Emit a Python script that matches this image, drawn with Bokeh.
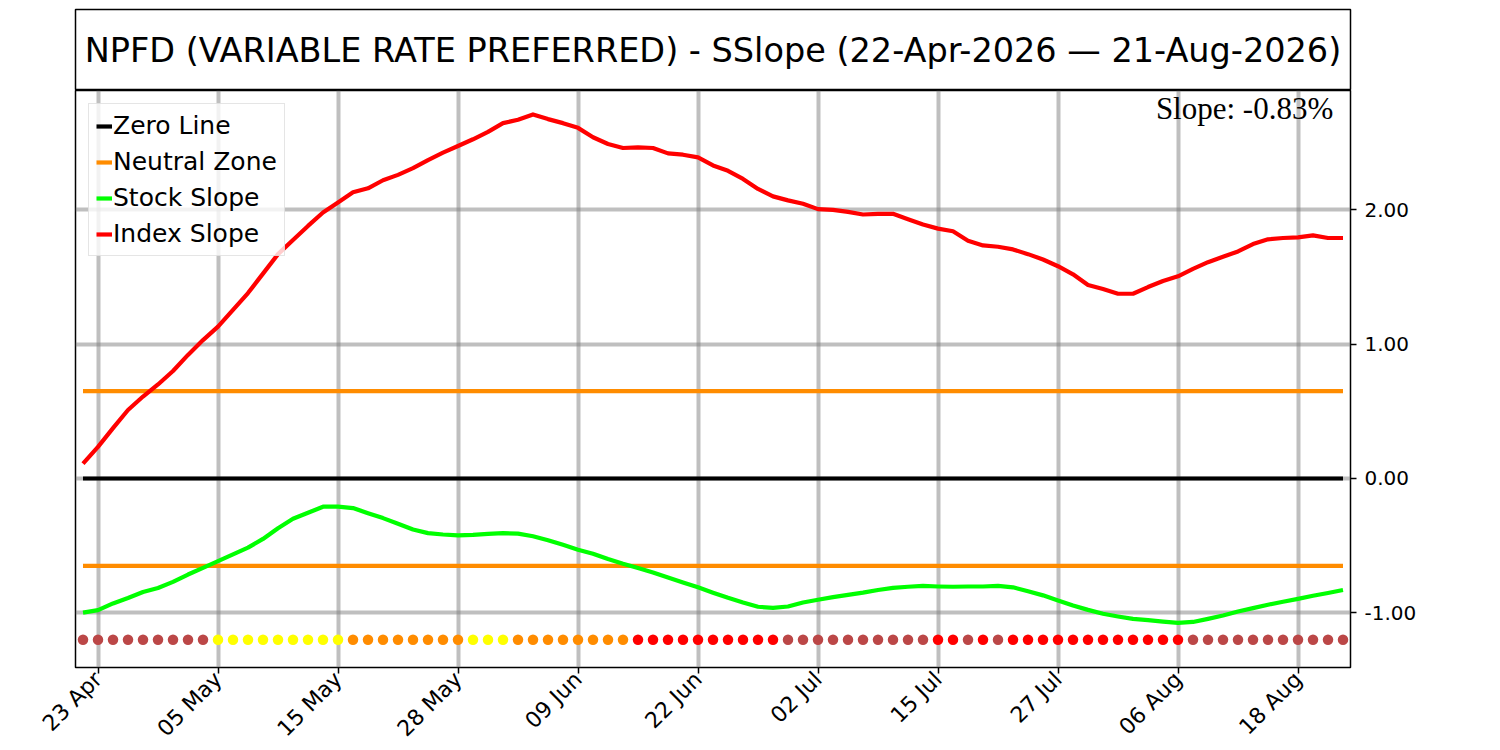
import math
import pandas as pd
from bokeh.plotting import figure
from bokeh.models import (Range1d, FixedTicker, NumeralTickFormatter, Legend,
                          LegendItem, Label, ColumnDataSource)
from bokeh.layouts import column
from bokeh.embed import file_html
from bokeh.resources import INLINE

# ---------------- data ----------------
TITLE = "NPFD (VARIABLE RATE PREFERRED) - SSlope (22-Apr-2026 \u2014 21-Aug-2026)"
SLOPE_TEXT = "Slope: -0.83%"

market_holidays = ["2026-05-25", "2026-06-19", "2026-07-03"]
days = [d for d in pd.bdate_range("2026-04-22", "2026-08-21")
        if d.strftime("%Y-%m-%d") not in market_holidays]
idx = list(range(len(days)))

tick_idx = [1, 9, 17, 25, 33, 41, 49, 57, 65, 73, 81]
tick_labels = [days[i].strftime("%d %b") for i in tick_idx]
y_ticks = [-1.0, 0.0, 1.0, 2.0]

index_slope = [
    0.11, 0.235, 0.375, 0.51, 0.61, 0.70, 0.80, 0.92, 1.03, 1.13,
    1.255, 1.38, 1.525, 1.67, 1.775, 1.88, 1.98, 2.055, 2.13, 2.16,
    2.22, 2.26, 2.31, 2.37, 2.425, 2.475, 2.525, 2.58, 2.645, 2.67,
    2.71, 2.675, 2.645, 2.61, 2.54, 2.49, 2.46, 2.465, 2.46, 2.42,
    2.41, 2.39, 2.33, 2.29, 2.23, 2.155, 2.10, 2.07, 2.045, 2.005,
    2.0, 1.985, 1.965, 1.97, 1.97, 1.93, 1.89, 1.86, 1.84, 1.77,
    1.735, 1.725, 1.705, 1.67, 1.63, 1.58, 1.52, 1.44, 1.41, 1.375,
    1.375, 1.425, 1.47, 1.505, 1.56, 1.61, 1.65, 1.69, 1.745, 1.78,
    1.79, 1.795, 1.81, 1.79, 1.79,
]

stock_slope = [
    -0.998, -0.98, -0.93, -0.89, -0.845, -0.815, -0.77, -0.715, -0.665, -0.615,
    -0.565, -0.515, -0.45, -0.37, -0.30, -0.255, -0.21, -0.21, -0.22, -0.258,
    -0.295, -0.337, -0.38, -0.407, -0.417, -0.424, -0.42, -0.412, -0.407, -0.41,
    -0.43, -0.46, -0.494, -0.53, -0.56, -0.60, -0.635, -0.667, -0.70, -0.737,
    -0.774, -0.81, -0.85, -0.888, -0.923, -0.955, -0.963, -0.953, -0.923, -0.903,
    -0.883, -0.866, -0.85, -0.83, -0.814, -0.806, -0.80, -0.804, -0.806, -0.804,
    -0.804, -0.80, -0.81, -0.84, -0.87, -0.908, -0.945, -0.978, -1.007, -1.027,
    -1.045, -1.055, -1.066, -1.075, -1.068, -1.045, -1.02, -0.99, -0.965, -0.94,
    -0.918, -0.896, -0.873, -0.852, -0.83,
]

# daily signal state: B = weak (brown), Y = yellow, O = orange, R = red
signal_state = list(
    "BBBBBBBBB" + "YYYYYYYYY" + "OOOOOOOO" + "YYY" + "OOOOOOOO" +
    "RRRRRRRRRR" + "BBBBBBBBBB" + "RRBRBR" + "RRRRRRRRRRR" + "BBBBBBBBBBB"
)

ZERO_LEVEL = 0.0
NEUTRAL_LEVEL = 0.65
DOT_LEVEL = -1.2

# ---------------- styling ----------------
state_colors = {"B": "#bb4747", "Y": "#ffff00", "O": "#ff8c00", "R": "#ff0000"}
FONT = "DejaVu Sans"
LW = 4.2

# ---------------- title box ----------------
t = figure(frame_width=1275, frame_height=81, x_range=Range1d(0, 1), y_range=Range1d(0, 1),
           x_axis_type=None, y_axis_type=None, output_backend="svg", toolbar_location=None,
           min_border_left=75, min_border_right=10, min_border_top=9, min_border_bottom=0)
t.grid.visible = False
t.outline_line_color = "black"
t.outline_line_width = 1.5
t.add_layout(Label(x=0.5, y=0.5, text=TITLE, text_align="center", text_baseline="middle",
                   text_font=FONT, text_font_size="33.5px", text_color="black"))

# ---------------- main plot ----------------
p = figure(frame_width=1275, frame_height=577,
           x_range=Range1d(-0.5, 84.5), y_range=Range1d(-1.407, 2.888),
           y_axis_location="right", output_backend="svg", toolbar_location=None,
           min_border_left=75, min_border_top=0, min_border_right=10, min_border_bottom=0)
p.outline_line_color = "black"
p.outline_line_width = 1.5

p.xaxis.ticker = FixedTicker(ticks=tick_idx)
p.xaxis.major_label_overrides = {i: lab for i, lab in zip(tick_idx, tick_labels)}
p.xaxis.major_label_orientation = math.pi / 4
p.yaxis.ticker = FixedTicker(ticks=y_ticks)
p.yaxis.formatter = NumeralTickFormatter(format="0.00")
p.xgrid.ticker = FixedTicker(ticks=tick_idx)
p.ygrid.ticker = FixedTicker(ticks=y_ticks)

for ax in (p.xaxis, p.yaxis):
    ax.axis_line_color = None
    ax.major_tick_out = 6
    ax.major_tick_in = 0
    ax.minor_tick_out = 0
    ax.minor_tick_in = 0
    ax.major_tick_line_color = "black"
    ax.major_tick_line_width = 1.5
    ax.major_label_text_font = FONT
    ax.major_label_text_color = "black"
p.xaxis.major_label_text_font_size = "22px"
p.yaxis.major_label_text_font_size = "20px"
p.xaxis.major_label_standoff = 2
p.yaxis.major_label_standoff = 8

for g in (p.xgrid, p.ygrid):
    g.grid_line_color = "gray"
    g.grid_line_alpha = 0.5
    g.grid_line_width = 4

x_ends = [idx[0], idx[-1]]
r_zero = p.line(x_ends, [ZERO_LEVEL, ZERO_LEVEL], line_color="black", line_width=LW)
r_neu = p.line(x_ends, [NEUTRAL_LEVEL, NEUTRAL_LEVEL], line_color="#ff8c00", line_width=LW)
p.line(x_ends, [-NEUTRAL_LEVEL, -NEUTRAL_LEVEL], line_color="#ff8c00", line_width=LW)
r_stock = p.line(idx, stock_slope, line_color="#00ff00", line_width=LW, line_join="round")
r_index = p.line(idx, index_slope, line_color="#ff0000", line_width=LW, line_join="round")

dots = ColumnDataSource(dict(x=idx, y=[DOT_LEVEL] * len(idx),
                             c=[state_colors[s] for s in signal_state]))
p.scatter("x", "y", source=dots, size=10.5, fill_color="c", line_color=None)

legend = Legend(items=[
    LegendItem(label="Zero Line", renderers=[r_zero]),
    LegendItem(label="Neutral Zone", renderers=[r_neu]),
    LegendItem(label="Stock Slope", renderers=[r_stock]),
    LegendItem(label="Index Slope", renderers=[r_index]),
], location="top_left")
legend.label_text_font = FONT
legend.label_text_font_size = "25px"
legend.label_text_color = "black"
legend.glyph_width = 16
legend.glyph_height = 26
legend.label_height = 26
legend.label_standoff = 1
legend.spacing = 7
legend.padding = 7
legend.margin = 13
legend.border_line_color = "#cccccc"
legend.border_line_width = 1.5
legend.background_fill_alpha = 0.8
p.add_layout(legend)

p.add_layout(Label(x=83.35, y=2.885, text=SLOPE_TEXT, text_align="right", text_baseline="top",
                   text_font="Liberation Serif", text_font_size="31px", text_color="black"))

layout = column(t, p)
open("out.html", "w").write(file_html(layout, INLINE))
